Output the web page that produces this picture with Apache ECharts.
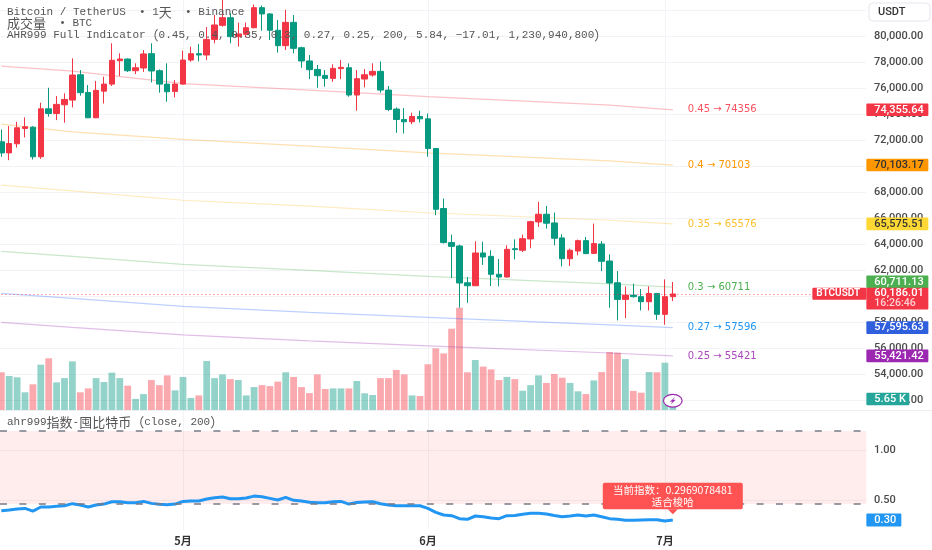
<!DOCTYPE html>
<html><head><meta charset="utf-8">
<style>html,body{margin:0;padding:0;background:#fff}#c{width:932px;height:550px}</style>
<script src="https://cdn.jsdelivr.net/npm/echarts@6/dist/echarts.min.js"></script>
</head><body><div id="c"></div>
<script>
const opens=[71890,71040,71740,72920,73020,70740,74430,74070,74740,75100,77050,75690,73740,75790,76330,78130,78260,77360,77570,78670,77360,76330,75770,76330,78180,78670,78570,79770,80850,81440,79980,80160,80670,82210,81730,80470,79290,81080,79130,78110,77460,77000,76770,77520,77590,75490,76720,77030,77310,75870,74410,73610,73430,73840,73660,71380,66760,64140,63880,61050,60820,63340,63080,61700,61490,63670,63550,64420,65730,66320,65650,64500,62900,63490,64290,63310,64030,62720,61050,59770,60100,59980,59590,60230,58620,59980];
const closes=[71040,71760,72970,73050,70740,74430,74070,74770,75150,77030,75670,73740,75850,76330,78160,78260,77360,77590,78650,77340,76330,75740,76330,78180,78670,78570,79770,80880,81440,79980,80190,80670,82210,81730,80470,79290,81080,79080,78110,77440,76980,76770,77540,77620,75490,76750,77050,77310,75870,74380,73610,73430,73840,73660,71380,66700,64140,63850,61030,60820,63340,63030,61700,61490,63620,63600,64440,65750,66320,65630,64470,62900,63550,64290,63290,64060,62700,61030,59770,60100,59980,59590,60230,58620,59980,60186];
const lows=[70740,70480,71450,72230,70530,70580,73820,73560,73360,74540,75440,73710,73710,74840,76180,76950,77260,77100,77270,76460,75670,74970,75310,76280,78050,78080,78180,79470,80750,79470,79210,79930,80620,80440,79720,78750,78950,78700,77590,76720,76050,76130,76510,76720,75360,74280,76080,76900,75670,74250,72580,72530,73250,73380,70740,66240,64070,61410,59130,59510,60800,62420,60800,60770,61450,62850,63420,63700,65340,65210,63930,62310,62340,63160,63260,63260,61950,59130,58150,58330,59900,58920,58920,58200,57820,59640];
const highs=[72840,73100,73430,73770,73100,74900,76050,75410,75620,78310,77410,76260,76570,76900,79470,78700,78300,77930,78950,79470,77460,77930,76640,78900,79210,79420,80720,81650,83070,81780,81060,81060,82450,82370,81780,81260,82040,81650,79210,78570,77800,77410,77850,78180,77930,77410,77490,77930,78080,76180,74540,74490,74130,74280,74070,71420,67530,64750,63980,61490,64240,64210,63550,62880,63930,64390,64750,65820,67270,66960,66450,64780,63670,64370,64570,65600,64260,63240,61950,60770,60980,60570,60770,60260,61310,61110];
const volumes=[19.4,17.5,16.8,9.1,13.2,23.3,26.6,14.2,16.4,25,9.1,11.1,16.4,14.4,19.2,16.4,12.5,5.7,8.2,15.4,12.8,17.8,10.1,17,6.2,7.5,25.2,16.4,18.3,15.9,15.4,7.5,11.8,12.8,12.3,14.6,19.4,17,11.8,8.7,18.3,10.8,11.1,11.1,11.1,14.9,8.6,7.7,16.4,16.4,20.6,18.3,7.5,7.2,23.5,31.7,29.1,41.8,52.6,19.4,25.7,22.3,20.9,15.4,17,15.9,9.9,12.8,17.8,13.9,18.5,16.6,13.9,9.6,8.2,15.2,19.5,29.8,29.5,26.2,9.8,8.9,19.5,19.4,24.3,5.65];
const ahr=[.392,.398,.409,.415,.388,.429,.429,.436,.442,.463,.449,.429,.449,.459,.483,.483,.473,.473,.486,.466,.456,.453,.459,.486,.49,.49,.51,.524,.53,.513,.513,.52,.54,.534,.517,.5,.527,.497,.49,.478,.473,.473,.483,.486,.459,.476,.48,.483,.463,.449,.442,.442,.442,.442,.415,.375,.348,.341,.311,.304,.338,.331,.317,.311,.341,.344,.355,.365,.365,.358,.344,.331,.338,.348,.338,.348,.331,.311,.304,.294,.294,.297,.3,.3,.287,.2969];
const levelDates=['04-08','04-17','05-01','05-17','06-01','06-24','07-02'];
const level045=[77720,77335,76372,75871,75370,74716,74355.64];
const level040=[73252,72659,72073,71557,71041,70425,70103.17];
const level035=[68553,68113,67397,66950,66434,65856,65575.51];
const level030=[63468,63083,62467,62004,61542,60964,60711.13];
const level027=[60232,59848,59231,58769,58383,57805,57595.63];
const level025=[57998,57613,57035,56573,56188,55648,55421.42];
const levelNames=['0.45','0.4','0.35','0.3','0.27','0.25'];
const monthLabels={'05-01':'5月','06-01':'6月','07-01':'7月'};
const titleLines=['Bitcoin / TetherUS  • 1天  • Binance','成交量  • BTC','AHR999 Full Indicator（0.45, 0.4, 0.35, 0.3, 0.27, 0.25, 200, 5.84, −17.01, 1,230,940,800）'];
const subTitle='ahr999指数-囤比特币（close, 200）';
const calloutLines=['当前指数：0.2969078481','适合梭哈'];
const currentPrice=60186.01, countdown='16:26:46', volTag='5.65 K', ahrTop=1.2, ahrBottom=0.46;

const dates=[];
[['04',8,30],['05',1,31],['06',1,30],['07',1,26]].forEach(([m,a,b])=>{for(let d=a;d<=b;d++)dates.push(m+'-'+String(d).padStart(2,'0'));});
const lastDate=dates[closes.length-1];
const isMonth=(i,v)=>monthLabels[v]!==undefined;
const levels=[level045,level040,level035,level030,level027,level025];
const lineColors=['#f23645','#ff9800','#fbc02d','#4caf50','#2962ff','#9c27b0'];
const textColors=['#f7525f','#ff9800','#fbc02d','#4caf50','#2196f3','#ab47bc'];
const tagColors=['#f23645','#ff9800','#fdd835','#4caf50','#2f5fdc','#9c27b0'];
const tagFg=['#fff','#333','#333','#fff','#fff','#fff'];
const tagShift=[0,0,0,-5.3,0,0];
const fmt=v=>v.toLocaleString('en-US',{minimumFractionDigits:2,maximumFractionDigits:2});
const G='#f2f3f6', lab='#4a4a4a', F='Roboto';
const monoF='11px "Liberation Mono",monospace';
const cjkFont='13px "Noto Sans CJK SC"';
const L=-2.65,W=869;
const xBase=(g,extra)=>Object.assign({type:'category',gridIndex:g,data:dates,boundaryGap:true,axisLine:{show:false},axisTick:{show:false},axisLabel:{show:false},
  splitLine:{show:true,alignWithLabel:true,interval:isMonth,lineStyle:{color:G,width:1}}},extra||{});
const rightEdge=p=>p.coordSys.x+p.coordSys.width;
const tagText=(x,y,t,fg,font)=>({type:'text',style:{x,y,text:t,fill:fg,font:font||('500 11px '+F),align:'left',verticalAlign:'middle'}});
// a title line is split into runs so CJK and Latin text can sit on one centre line
const measure=document.createElement('canvas').getContext('2d');
const runsOf=s=>s.match(/[\u3000-\u9fff\uff00-\uffef]+|[^\u3000-\u9fff\uff00-\uffef]+/g);
const titleText=(s,x,y)=>{let cx=x;return runsOf(s).map(r=>{const isC=/[\u3000-\u9fff\uff00-\uffef]/.test(r),font=isC?cjkFont:monoF;measure.font=font;
  const el={type:'text',z:100,style:{x:cx,y,text:r,fill:'#555',font,align:'left',verticalAlign:'middle'}};cx+=measure.measureText(r).width;return el;});};

const series=[
 {type:'bar',name:'vol',xAxisIndex:1,yAxisIndex:1,barWidth:6.8,z:1,silent:true,
  data:volumes.map((v,i)=>({value:v,itemStyle:{color:closes[i]>=opens[i]?'rgba(22,160,140,.46)':'rgba(244,70,78,.46)'}}))},
 ...levels.map((lv,k)=>({type:'line',name:levelNames[k],xAxisIndex:0,yAxisIndex:0,z:2,silent:true,showSymbol:false,connectNulls:true,
   lineStyle:{color:lineColors[k],width:1.2,opacity:.3},
   data:levelDates.map((d,j)=>[d,lv[j]])})),
 {type:'candlestick',name:'BTC',xAxisIndex:0,yAxisIndex:0,barWidth:6,z:3,silent:true,
  itemStyle:{color:'#f23645',color0:'#089981',borderColor:'#f23645',borderColor0:'#089981',borderWidth:1},
  data:opens.map((o,i)=>[o,closes[i],lows[i],highs[i]]),
  markLine:{silent:true,symbol:'none',label:{show:false},animation:false,lineStyle:{color:'#f23645',type:[1,3],width:1,opacity:.8},data:[{yAxis:currentPrice}]}},
 {type:'custom',xAxisIndex:0,yAxisIndex:0,z:6,silent:true,
  data:levels.map(lv=>[lastDate,lv[lv.length-1]]),
  renderItem(p,api){
    const k=p.dataIndex, v=api.value(1), c=api.coord([api.value(0),v]), r=rightEdge(p), ty=c[1]+tagShift[k];
    return {type:'group',children:[
      tagText(c[0]+15,c[1],levelNames[k]+' → '+Math.round(v),textColors[k],'10px "DejaVu Sans"'),
      {type:'rect',shape:{x:r,y:ty-6.3,width:62,height:12.6,r:1},style:{fill:tagColors[k]}},
      tagText(r+8,ty,fmt(v),tagFg[k])
    ]};
  }},
 {type:'custom',xAxisIndex:0,yAxisIndex:0,z:7,silent:true,data:[[lastDate,currentPrice]],
  renderItem(p,api){
    const c=api.coord([api.value(0),api.value(1)]), r=rightEdge(p);
    return {type:'group',children:[
      {type:'rect',shape:{x:r,y:c[1]-6.2,width:62,height:21.6,r:1},style:{fill:'#f23645'}},
      tagText(r+8,c[1]-1,fmt(currentPrice),'#fff'),
      tagText(r+8,c[1]+9,countdown,'#ffd0d4','500 10.5px '+F),
      {type:'rect',shape:{x:r-54,y:c[1]-6.2,width:54,height:12,r:1},style:{fill:'#f23645'}},
      tagText(r-50,c[1]-.2,'BTCUSDT','#fff','600 10px '+F)
    ]};
  }},
 {type:'custom',xAxisIndex:1,yAxisIndex:1,z:7,silent:true,data:[[lastDate,volumes[volumes.length-1]]],
  renderItem(p,api){
    const c=api.coord([api.value(0),api.value(1)]), r=rightEdge(p), cy=c[1]+1.7, cx=c[0];
    return {type:'group',children:[
      {type:'ellipse',shape:{cx,cy,rx:9.3,ry:6.4},style:{fill:'#fff',stroke:'#9c27b0',lineWidth:1.2}},
      {type:'polygon',shape:{points:[[cx+2.5,cy-4],[cx-3,cy+1],[cx-.3,cy+.8],[cx-2.5,cy+4],[cx+3,cy-1],[cx+.3,cy-.8]]},style:{fill:'#9c27b0'}},
      {type:'rect',shape:{x:r,y:c[1]-6.2,width:43,height:12.4,r:1},style:{fill:'#26a69a'}},
      tagText(r+8,c[1],volTag,'#fff')
    ]};
  }},
 {type:'line',name:'ahr999',xAxisIndex:2,yAxisIndex:2,z:4,silent:true,showSymbol:false,data:ahr,
  lineStyle:{color:'#2196f3',width:3},
  markArea:{silent:true,itemStyle:{color:'rgba(255,82,82,.11)'},data:[[{yAxis:ahrTop},{yAxis:ahrBottom}]]},
  markLine:{silent:true,symbol:'none',animation:false,label:{show:false},lineStyle:{color:'#787b86',type:[7,12.4],dashOffset:-2.65,width:1.5},data:[{yAxis:ahrTop},{yAxis:ahrBottom}]}},
 {type:'custom',xAxisIndex:2,yAxisIndex:2,z:8,silent:true,data:[[lastDate,ahr[ahr.length-1]]],
  renderItem(p,api){
    const v=api.value(1), c=api.coord([api.value(0),v]), r=rightEdge(p), x=c[0], t=c[1]-37.3;
    const center=(s,y)=>({type:'text',style:{x,y,text:s,fill:'#fff',font:'10.5px "Noto Sans CJK SC"',align:'center',verticalAlign:'middle'}});
    return {type:'group',children:[
      {type:'polygon',shape:{points:[[x-5,t+26.6],[x+5,t+26.6],[x,t+31.5]]},style:{fill:'#ff5252'}},
      {type:'rect',shape:{x:x-70,y:t,width:140,height:26.6,r:2},style:{fill:'#ff5252'}},
      center(calloutLines[0],t+7.5),center(calloutLines[1],t+19),
      {type:'rect',shape:{x:r,y:c[1]-6.5,width:35,height:13,r:1},style:{fill:'#2196f3'}},
      tagText(r+8,c[1],v.toFixed(2),'#fff')
    ]};
  }}
];

const chart=echarts.init(document.getElementById('c'),null,{renderer:'canvas'});
chart.setOption({
 animation:false,backgroundColor:'#fff',
 grid:[{left:L,width:W,top:-15.6,height:416,outerBoundsMode:'none'},{left:L,width:W,top:205,height:205,outerBoundsMode:'none'},{left:L,width:W,top:410,height:120,outerBoundsMode:'none'}],
 xAxis:[xBase(0),xBase(1),xBase(2,{axisLabel:{show:true,interval:isMonth,formatter:v=>monthLabels[v]||'',color:'#333',fontFamily:'"Noto Sans CJK SC"',fontSize:11,fontWeight:'bold',margin:5}})],
 yAxis:[
  {type:'value',gridIndex:0,position:'right',min:52000,max:84000,interval:2000,axisLine:{show:false},axisTick:{show:false},
   splitLine:{lineStyle:{color:G}},axisLabel:{color:lab,fontFamily:F,fontWeight:500,fontSize:11,margin:7.6,align:'left',padding:[1,0,0,0],formatter:fmt}},
  {type:'value',gridIndex:1,show:false,min:0,max:105.4,splitLine:{show:false}},
  {type:'value',gridIndex:2,position:'right',min:0.196,max:1.413,axisLine:{show:false},
   axisTick:{show:false,customValues:[0.5,1]},splitLine:{show:true,lineStyle:{color:G}},
   axisLabel:{customValues:[0.5,1],color:lab,fontFamily:F,fontWeight:500,fontSize:11,margin:7.6,align:'left',padding:[2,0,0,0],formatter:v=>v.toFixed(2)}}
 ],
 series,
 graphic:[
  {type:'line',z:50,shape:{x1:0,y1:410.5,x2:932,y2:410.5},style:{stroke:'#eceef2',lineWidth:1}},
  ...titleText(titleLines[0],7,12),...titleText(titleLines[1],7,23.5),...titleText(titleLines[2],7,35),
  ...titleText(subTitle,7,422),
  {type:'rect',z:100,shape:{x:869,y:3,width:61,height:18,r:4},style:{fill:'#fff',stroke:'#e4e6ec',lineWidth:1}},
  {type:'text',z:101,left:878,top:6.5,style:{text:'USDT',fill:'#333',font:'500 11px '+F}}
 ]
});
</script></body></html>
